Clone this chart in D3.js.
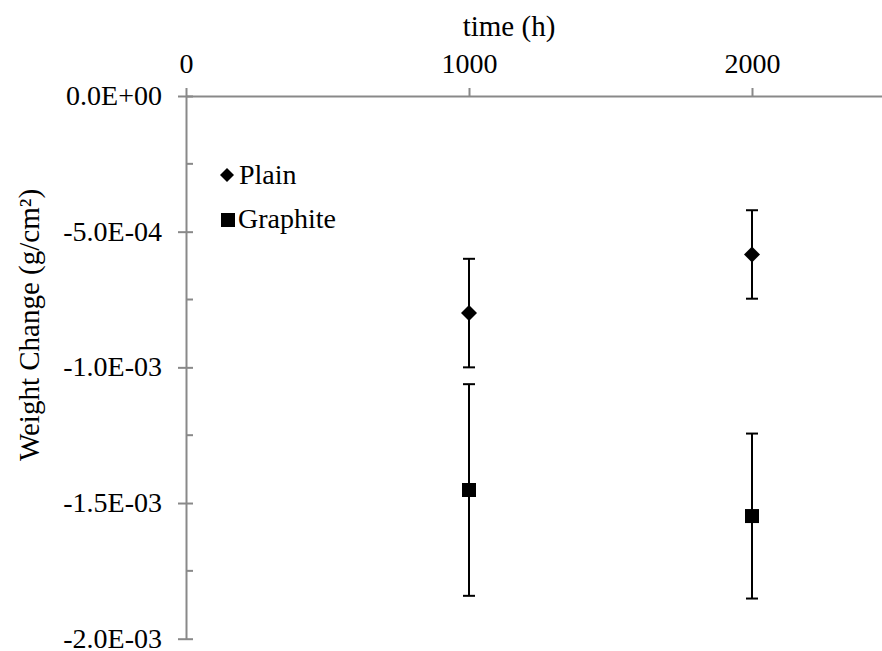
<!DOCTYPE html>
<html>
<head>
<meta charset="utf-8">
<script src="https://cdn.jsdelivr.net/npm/d3@7"></script>
</head>
<body style="margin:0;background:#fff">
<svg id="chart" width="882" height="651" style="display:block"></svg>
<script>
// ---- data ----
const seriesNames = ["Plain", "Graphite"];
const times = [1000, 2000];
const plainValues = [-8.0e-4, -5.84e-4];
const plainErrors = [2.0e-4, 1.63e-4];
const graphiteValues = [-1.452e-3, -1.548e-3];
const graphiteErrors = [3.9e-4, 3.04e-4];
const xTickValues = [0, 1000, 2000];
const yTickValues = [0, -5e-4, -1e-3, -1.5e-3, -2e-3];
const yMinorTickValues = [-2.5e-4, -7.5e-4, -1.25e-3, -1.75e-3];
const xTitle = "time (h)";
const yTitle = "Weight Change (g/cm²)";

// ---- layout ----
const svg = d3.select("#chart");
const x0 = 186, xEndPx = 893.5, y0 = 96, yEndPx = 638.7;
const x = d3.scaleLinear().domain([0, 2500]).range([x0, xEndPx]);
const y = d3.scaleLinear().domain([0, -2e-3]).range([y0, yEndPx]);
const axisColor = "#898989";
const SERIF = "'Liberation Serif'";
const serifText = (sel, size) => sel.style("font-family", SERIF).attr("font-size", size);

// X axis (top)
const xAxis = svg.append("g").attr("transform", `translate(0,${y0})`)
  .call(d3.axisTop(x).tickValues(xTickValues).tickSize(8).tickSizeOuter(0).tickPadding(15).tickFormat(d3.format("d")));
xAxis.attr("font-family", null).attr("font-size", null);
xAxis.select(".domain").attr("stroke", axisColor).attr("stroke-width", 2);
xAxis.selectAll(".tick line").attr("stroke", axisColor).attr("stroke-width", 2);
xAxis.selectAll(".tick text").call(serifText, 28).attr("fill", "#000");

// Y axis
const fmt = v => {
  if (v === 0) return "0.0E+00";
  const s = v.toExponential(1).toUpperCase();
  return s.replace(/E([+-])(\d)$/, "E$10$2");
};
const yAxis = svg.append("g").attr("transform", `translate(${x0},0)`)
  .call(d3.axisLeft(y).tickValues(yTickValues).tickSize(8).tickSizeOuter(0).tickPadding(16).tickFormat(fmt));
yAxis.attr("font-family", null).attr("font-size", null);
yAxis.select(".domain").attr("stroke", axisColor).attr("stroke-width", 2);
yAxis.selectAll(".tick line").attr("stroke", axisColor).attr("stroke-width", 2).attr("x2", 7).attr("x1", -8);
yAxis.selectAll(".tick text").call(serifText, 28).attr("fill", "#000").attr("dy", "0.3em");
// minor ticks (inside)
svg.append("g").selectAll("line").data(yMinorTickValues).join("line")
  .attr("x1", x0).attr("x2", x0 + 7)
  .attr("y1", d => y(d)).attr("y2", d => y(d))
  .attr("stroke", axisColor).attr("stroke-width", 2);

// titles
svg.append("text").attr("x", 509).attr("y", 36).attr("text-anchor", "middle")
  .call(serifText, 29).text(xTitle);
svg.append("text").attr("transform", "translate(39,325) rotate(-90)").attr("text-anchor", "middle")
  .call(serifText, 29).text(yTitle);

// ---- series ----
function diamondPath(s) { return `M0,${-s}L${s},0L0,${s}L${-s},0Z`; }

function drawSeries(vals, errs, shape) {
  const g = svg.append("g");
  const data = times.map((t, i) => ({ t, v: vals[i], e: errs[i] }));
  g.selectAll("line.bar").data(data).join("line")
    .attr("x1", d => x(d.t)).attr("x2", d => x(d.t))
    .attr("y1", d => y(d.v + d.e)).attr("y2", d => y(d.v - d.e))
    .attr("stroke", "#000").attr("stroke-width", 2);
  ["top", "bottom"].forEach(side => {
    g.selectAll("line.cap" + side).data(data).join("line")
      .attr("x1", d => x(d.t) - 6).attr("x2", d => x(d.t) + 6)
      .attr("y1", d => y(side === "top" ? d.v + d.e : d.v - d.e))
      .attr("y2", d => y(side === "top" ? d.v + d.e : d.v - d.e))
      .attr("stroke", "#000").attr("stroke-width", 2);
  });
  if (shape === "diamond") {
    g.selectAll("path").data(data).join("path")
      .attr("d", diamondPath(8))
      .attr("transform", d => `translate(${x(d.t)},${y(d.v)})`).attr("fill", "#000");
  } else {
    g.selectAll("rect").data(data).join("rect")
      .attr("x", d => x(d.t) - 7).attr("y", d => y(d.v) - 7)
      .attr("width", 14).attr("height", 14).attr("fill", "#000");
  }
}
drawSeries(plainValues, plainErrors, "diamond");
drawSeries(graphiteValues, graphiteErrors, "square");

// ---- legend ----
svg.append("path").attr("d", diamondPath(7)).attr("transform", "translate(227,175)").attr("fill", "#000");
svg.append("text").attr("x", 239).attr("y", 184).call(serifText, 28).text(seriesNames[0]);
svg.append("rect").attr("x", 221).attr("y", 213).attr("width", 14).attr("height", 14).attr("fill", "#000");
svg.append("text").attr("x", 238).attr("y", 228).call(serifText, 28).text(seriesNames[1]);
</script>
</body>
</html>
